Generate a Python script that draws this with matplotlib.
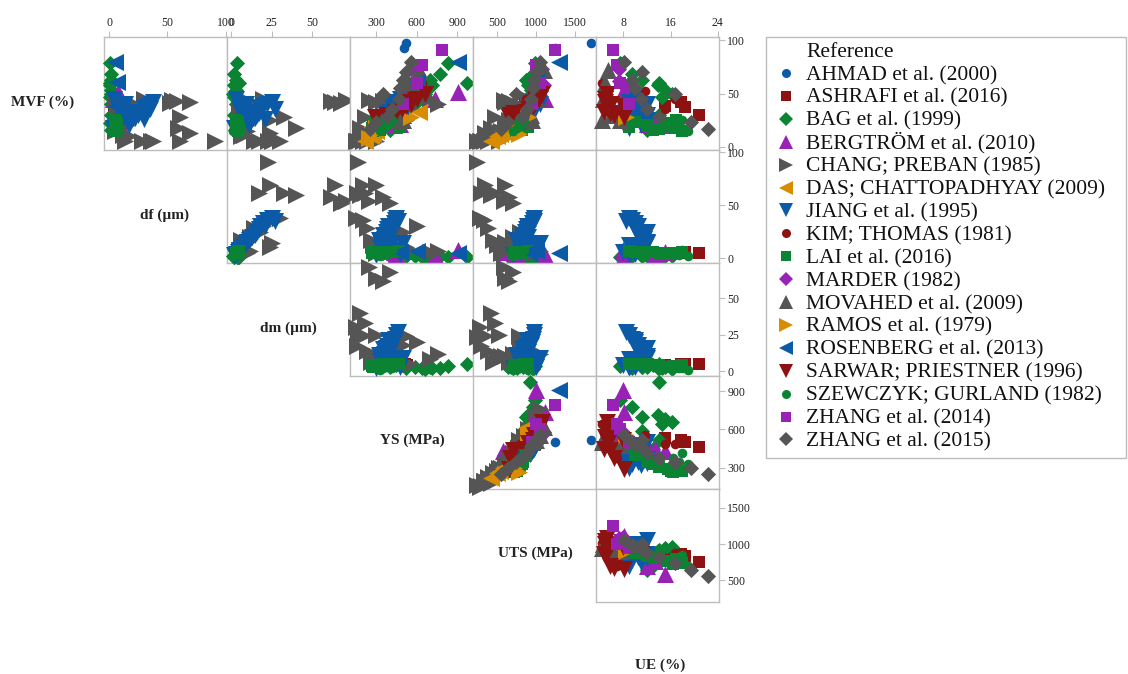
import numpy as np
import matplotlib.pyplot as plt
from matplotlib.lines import Line2D
from matplotlib.patches import Rectangle

plt.rcParams['font.family'] = ['Liberation Serif', 'DejaVu Serif']

nan = np.nan

# variables of the scatter matrix
variables = ["MVF", "df", "dm", "YS", "UTS", "UE"]
var_labels = ["MVF (%)", "df (\u00b5m)", "dm (\u00b5m)", "YS (MPa)", "UTS (MPa)", "UE (%)"]
x_ticks = {"df": [0, 50, 100], "dm": [0, 25, 50], "YS": [300, 600, 900],
           "UTS": [500, 1000, 1500], "UE": [8, 16, 24]}
y_ticks = {"MVF": [0, 50, 100], "df": [0, 50, 100], "dm": [0, 25, 50],
           "YS": [300, 600, 900], "UTS": [500, 1000, 1500]}
x_lims = {"df": (-4.3, 100.9), "dm": (-2.5, 73.5), "YS": (107, 1018),
          "UTS": (193, 1769), "UE": (3.4, 24.2)}
y_lims = {"MVF": (-3, 103), "df": (-4.7, 101.9), "dm": (-3.4, 74),
          "YS": (136, 1017), "UTS": (199, 1760)}

# data (one dict per reference, missing variables left out)
ahmad = dict(MVF=[93, 97], YS=[505, 520], UTS=[1240, 1700])
ashrafi = dict(MVF=[38, 42, 37, 30], df=[4, 5, 5.5, 5], dm=[4, 4.5, 4.5, 4.5],
               YS=[530, 515, 505, 460], UTS=[880, 860, 830, 750],
               UE=[15.0, 17.7, 18.4, 20.8])
bag = dict(MVF=[79, 68, 60, 63, 58, 53, 50, 47, 40, 30, 22, 16],
           df=[1, 1.5, 1, 2, 1, 1.5, 2, 1, 1.5, 2, 1, 1.5],
           dm=[3.5, 2, 5, 3, 2, 3, 1.5, 2, 3, 2, 4, 2.5],
           YS=[830, 775, 970, 700, 715, 680, 660, 640, 590, 520, 450, 400],
           UTS=[985, 960, 922, 870, 900, 940, 960, 900, 830, 760, 700, 640],
           UE=[7.5, 9.5, 14.1, 11.2, 13.8, 15.0, 16.2, 14.6, 11.2, 14.0, 13.0, 12.0])
bergstrom = dict(MVF=[51, 45, 22, 20, 21], df=[8, 3, 4, 6, 9],
                 YS=[910, 740, 450, 430, 480], UTS=[1000, 1115, 760, 580, 700],
                 UE=[8.0, 8.2, 13.3, 15.0, 12.0])
chang = dict(
    MVF=[5, 42, 43, 44, 41, 13, 5, 28, 18, 5, 5, 10, 5, 11, 30, 38, 25, 45, 20, 35, 45, 40, 25, 15, 5],
    df=[91, 69, 58, 54, 52, 69, 61, 61, 59, 36, 28, 17, 14, 12, 20, 25, 10, 30, 15, 8, 6, 7, 10, 5, 38],
    dm=[23, 64, 62, 71, 68, 24, 17, 33, 40, 25, 14, 6, 25, 8, 12, 18, 6, 20, 10, 5, 8, 12, 24, 10, 30],
    YS=[166, 300, 350, 250, 400, 200, 160, 220, 180, 200, 230, 260, 300, 280, 420, 500, 380, 600, 340, 550, 700, 760, 520, 300, 150],
    UTS=[240, 600, 650, 590, 700, 350, 300, 480, 420, 330, 380, 450, 520, 500, 700, 800, 650, 900, 600, 850, 1000, 1050, 780, 550, 280])
das = dict(MVF=[5, 10, 15, 12, 33], YS=[220, 260, 300, 280, 620],
           UTS=[430, 500, 580, 540, 880])
jiang = dict(
    MVF=[45, 42, 40, 38, 36, 35, 33, 32, 30, 30, 28, 27, 25, 24, 22, 20, 18, 35, 40, 26],
    df=[4, 38, 36, 33, 30, 8, 20, 27, 25, 12, 18, 22, 15, 10, 6, 17, 3, 35, 14, 30],
    dm=[3, 25, 22, 20, 18, 5, 13, 17, 16, 8, 12, 15, 10, 7, 4, 11, 2, 27, 9, 21],
    YS=[480, 450, 440, 430, 420, 470, 400, 380, 370, 410, 360, 350, 340, 330, 350, 320, 300, 460, 500, 390],
    UTS=[1000, 980, 960, 950, 930, 990, 900, 870, 860, 920, 830, 820, 800, 780, 790, 750, 700, 970, 1050, 880],
    UE=[10, 9, 9.5, 10, 10.5, 11, 11, 10, 12, 9, 11.5, 10.5, 12, 9.5, 8, 11, 9, 8.5, 12, 10])
kim = dict(MVF=[60, 52, 40, 35, 45, 30], YS=[640, 560, 480, 490, 490, 380],
           UTS=[1020, 950, 880, 800, 870, 700], UE=[4.4, 11.7, 5.2, 15.0, 16.8, 7.0])
lai = dict(MVF=[25, 22, 20, 18, 17, 16, 15, 20, 23, 19],
           df=[5, 5, 5, 5, 5, 6, 6, 6, 6, 7],
           dm=[3, 3, 3, 3.5, 4, 4, 4, 4.5, 4.5, 5],
           YS=[300, 280, 290, 270, 310, 330, 280, 350, 400, 470],
           UTS=[790, 760, 770, 720, 800, 820, 740, 830, 870, 900],
           UE=[17, 16, 15.5, 16.5, 14, 13, 18, 12, 10, 9])
marder = dict(MVF=[73, 62, 56, 58], YS=[560, 520, 500, 580],
              UTS=[1080, 1040, 1000, 1100], UE=[7.3, 7.3, 8.7, 8.0])
movahed = dict(MVF=[72, 60, 45, 25, 25, 30], YS=[620, 560, 520, 500, 480, 500],
               UTS=[1100, 1050, 1000, 950, 900, 930], UE=[5.4, 5.0, 4.5, 4.4, 7.5, 6.0])
ramos = dict(MVF=[8, 18, 28, 12], YS=[250, 300, 560, 270],
             UTS=[600, 720, 900, 780], UE=[nan, nan, 8.5, nan])
rosenberg = dict(MVF=[80, 61, 38], df=[5, 7, 6], YS=[910, 600, 480], UTS=[1290, 1000, 900])
sarwar = dict(MVF=[50, 45, 40, 35, 32, 30, 28, 38, 42, 33],
              YS=[660, 600, 560, 495, 440, 380, 290, 520, 540, 450],
              UTS=[1080, 1040, 980, 900, 700, 664, 650, 960, 1000, 860],
              UE=[5.2, 5.0, 6.0, 5.5, 5.7, 6.5, 8.2, 8.0, 5.0, 4.8])
szewczyk = dict(MVF=[15, 18, 20, 25], df=[2, 3, 4, 8], dm=[1, 2, 3, 2],
                YS=[330, 350, 380, 420], UTS=[700, 760, 800, 850], UE=[19, 17.5, 16.5, 18])
zhang2014 = dict(MVF=[91, 77, 60, 40], YS=[790, 640, 600, 500],
                 UTS=[1250, 1000, 1050, 950], UE=[6.2, 7.0, 7.5, 9.0])
zhang2015 = dict(MVF=[80, 70, 63, 55, 50, 45, 35, 28, 23, 17],
                 YS=[560, 520, 500, 480, 350, 470, 420, 380, 300, 253],
                 UTS=[1050, 1000, 980, 960, 740, 930, 880, 820, 640, 555],
                 UE=[8.2, 11.2, 9.5, 10, 16.8, 11, 12, 14, 19.5, 22.3])

blue, red, green, purple, grey, orange = "#0b5aa8", "#8e1212", "#0a8332", "#9722b5", "#555555", "#d98c00"
markers = {"o": 48, "s": 68, "D": 60, "^": 150, ">": 150, "<": 150, "v": 150}
legend_ms = {"o": 6.5, "s": 7.5, "D": 7, "^": 10.5, ">": 10.5, "<": 10.5, "v": 10.5}

studies = [
    ("AHMAD et al. (2000)", ahmad, "o", blue),
    ("ASHRAFI et al. (2016)", ashrafi, "s", red),
    ("BAG et al. (1999)", bag, "D", green),
    ("BERGTR\u00d6M et al. (2010)", bergstrom, "^", purple),
    ("CHANG; PREBAN (1985)", chang, ">", grey),
    ("DAS; CHATTOPADHYAY (2009)", das, "<", orange),
    ("JIANG et al. (1995)", jiang, "v", blue),
    ("KIM; THOMAS (1981)", kim, "o", red),
    ("LAI et al. (2016)", lai, "s", green),
    ("MARDER (1982)", marder, "D", purple),
    ("MOVAHED et al. (2009)", movahed, "^", grey),
    ("RAMOS et al. (1979)", ramos, ">", orange),
    ("ROSENBERG et al. (2013)", rosenberg, "<", blue),
    ("SARWAR; PRIESTNER (1996)", sarwar, "v", red),
    ("SZEWCZYK; GURLAND (1982)", szewczyk, "o", green),
    ("ZHANG et al. (2014)", zhang2014, "s", purple),
    ("ZHANG et al. (2015)", zhang2015, "D", grey),
]

W, H = 1128, 674
fig = plt.figure(figsize=(W / 100, H / 100), dpi=100)

col_left = [104, 227, 350, 473, 596]
row_top = [37, 150, 263, 376, 489]
cw, ch = 123, 113
edge = "#bdbdbd"


def get(d, key, n):
    return np.array(d.get(key, [nan] * n), dtype=float)


def fx(px):
    return px / W


def fy(py):
    return 1 - py / H


for i in range(5):
    yvar = variables[i]
    for j in range(i, 5):
        xvar = variables[j + 1]
        ax = fig.add_axes([fx(col_left[j]), fy(row_top[i] + ch), cw / W, ch / H])
        for label, d, m, c in studies:
            n = len(next(iter(d.values())))
            x = get(d, xvar, n)
            y = get(d, yvar, n)
            ok = ~np.isnan(x) & ~np.isnan(y)
            if ok.any():
                ax.scatter(x[ok], y[ok], marker=m, s=markers[m], c=c,
                           linewidths=0, clip_on=False, zorder=3)
        ax.set_xlim(x_lims[xvar])
        ax.set_ylim(y_lims[yvar])
        for s in ax.spines.values():
            s.set_color(edge)
            s.set_linewidth(1)
        ax.tick_params(which="both", top=False, bottom=False, left=False, right=False,
                       labeltop=False, labelbottom=False, labelleft=False, labelright=False,
                       color=edge, labelsize=8.5, labelcolor="#222222", length=4, pad=2)
        ax.set_xticks(x_ticks[xvar])
        ax.set_yticks(y_ticks[yvar])
        if i == 0:
            ax.tick_params(top=True, labeltop=True)
        if j == 4:
            ax.tick_params(right=True, labelright=True)

# diagonal labels
label_pos = [(43, 102), (165, 215), (288, 328), (412, 440), (535, 553), (660, 665)]
for name, (px, py) in zip(var_labels, label_pos):
    fig.text(fx(px), fy(py), name, ha="center", va="center",
             fontsize=11, fontweight="bold", color="#222222")

# legend drawn by hand so every row has the same height
fig.add_artist(Rectangle((fx(766), fy(458)), (1126 - 766) / W, (458 - 37) / H,
                         transform=fig.transFigure, fill=False, edgecolor=edge, lw=1))
fig.text(fx(806), fy(57), "Reference", ha="left", va="baseline", fontsize=15.5, color="#111111")
for k, (label, d, m, c) in enumerate(studies):
    yk = 73 + k * 22.9
    fig.add_artist(Line2D([fx(786)], [fy(yk)], transform=fig.transFigure, linestyle="none",
                          marker=m, color=c, markersize=legend_ms[m], markeredgewidth=0))
    fig.text(fx(806), fy(yk + 7), label, ha="left", va="baseline", fontsize=15.5, color="#111111")

fig.savefig("out.png", dpi=100)
